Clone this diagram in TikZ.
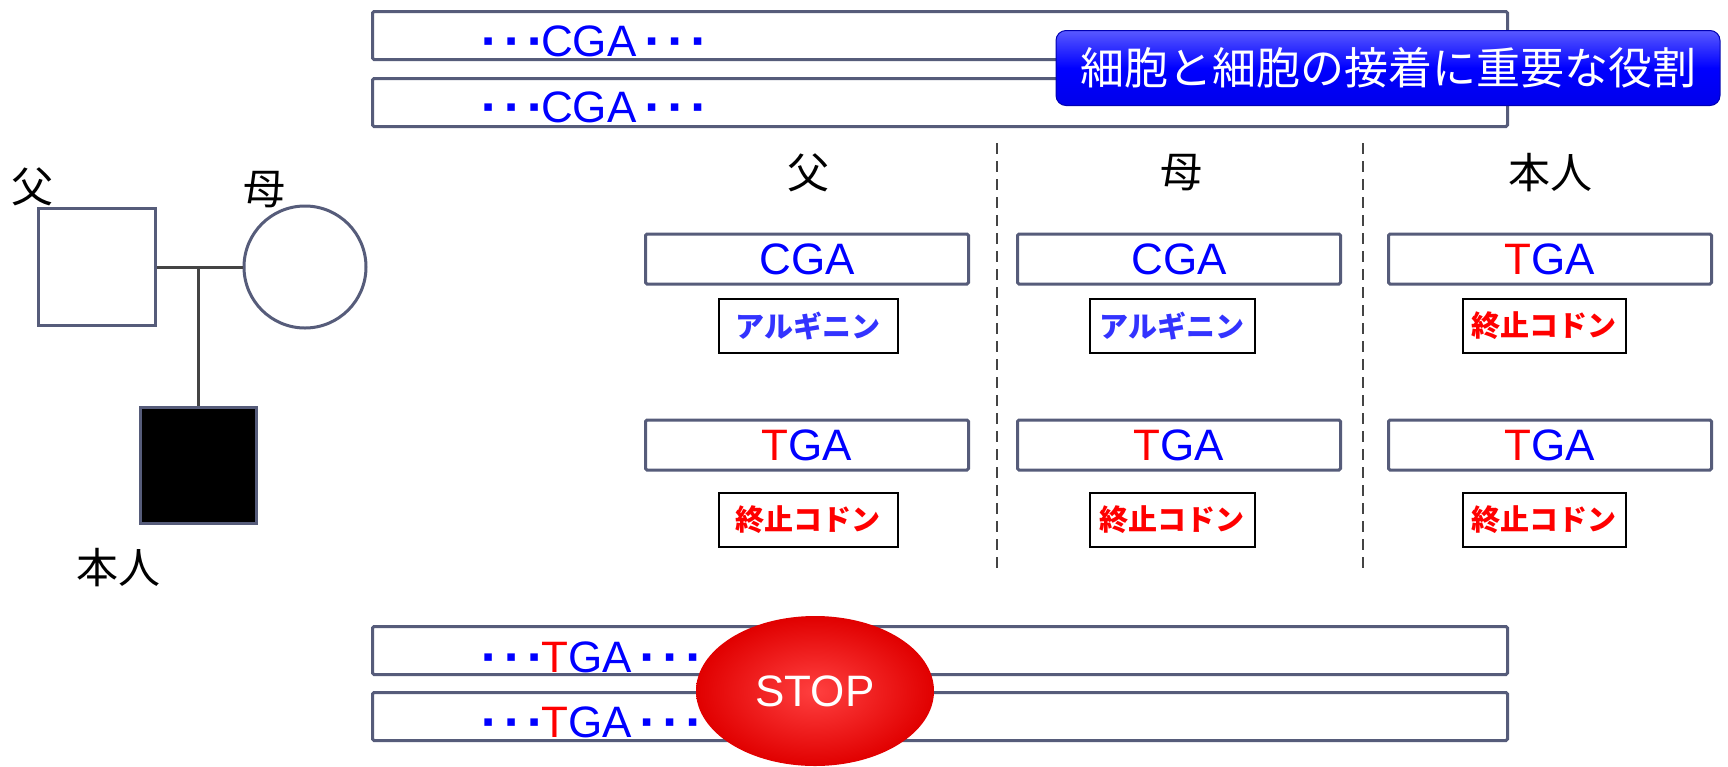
\documentclass[tikz,border=0pt]{standalone}
\usepackage{fontspec}
\setmainfont{Liberation Sans}
\newfontfamily\jp{Noto Sans CJK JP}
\newfontfamily\djv{DejaVu Sans}
\usetikzlibrary{shapes.geometric,shadings}
\definecolor{strandc}{HTML}{565C7A}
\definecolor{txtblue}{HTML}{0000FF}
\definecolor{amblue}{HTML}{3333FF}
\definecolor{pedline}{HTML}{444444}
\newcommand\onedot{\raisebox{10.5pt}{\djv\fontsize{15}{17}\selectfont ▪}}
\newcommand\dotbox[1]{\makebox[#1][l]{\onedot}}
\newcommand\leaddots{\dotbox{23pt}\dotbox{23pt}\dotbox{12pt}}
\newcommand\traildots{\kern10pt\dotbox{23pt}\dotbox{23pt}\onedot}
\begin{document}
\begin{tikzpicture}[x=1pt,y=-1pt,
  strandbox/.style={draw=strandc, line width=3pt, rounded corners=1.5pt, fill=white, minimum width=1135pt, minimum height=48pt, inner sep=0pt, anchor=north west},
  strandtxt/.style={text=txtblue, font=\fontsize{44}{48}\selectfont, inner sep=0pt, anchor=base west},
  codonbox/.style={draw=strandc, line width=3pt, rounded corners=1.5pt, fill=white, minimum width=323pt, minimum height=50pt, inner sep=0pt, text=txtblue, font=\fontsize{44}{48}\selectfont},
  aminobox/.style={draw=black, line width=2pt, fill=white, minimum height=54pt, inner sep=0pt, font=\jp\bfseries\fontsize{29}{32}\selectfont},
  header/.style={font=\jp\fontsize{42}{46}\selectfont, inner sep=0pt},
  pedsym/.style={draw=strandc, line width=3pt, inner sep=0pt},
  dashline/.style={draw=pedline, line width=2.5pt, dash pattern=on 11pt off 7pt}]
\useasboundingbox (0,0) rectangle (1728,766);
\fill[white] (0,0) rectangle (1728,766);
% top strands
\node[strandbox] (s1) at (371,10) {};
\node[strandbox] (s2) at (371,77) {};
\node[strandtxt] (t1) at (483,56) {\leaddots CGA\traildots};
\node[strandtxt] (t2) at (483,122) {\leaddots CGA\traildots};
% banner
\node[draw=blue!70!black, line width=1pt, rounded corners=10pt, top color=blue!65!white, bottom color=blue!92!black, middle color=blue, minimum width=664pt, minimum height=75pt, inner sep=0pt, text=white, font=\jp\fontsize{44}{48}\selectfont] (ban) at (1388,68) {細胞と細胞の接着に重要な役割};
% headers
\node[header] (h1) at (808,173) {父};
\node[header] (h2) at (1181,173) {母};
\node[header] (h3) at (1550,173) {本人};
% dashed separators
\coordinate (d1t) at (997,143); \coordinate (d1b) at (997,573);
\coordinate (d2t) at (1363,143); \coordinate (d2b) at (1363,573);
\draw[dashline] (d1t) -- (d1b);
\draw[dashline] (d2t) -- (d2b);
% codons row 1
\node[codonbox] (c11) at (807,259) {CGA};
\node[codonbox] (c12) at (1179,259) {CGA};
\node[codonbox] (c13) at (1550,259) {\textcolor{red}{T}GA};
\node[aminobox, minimum width=179pt, text=amblue] (a11) at (808,326) {アルギニン};
\node[aminobox, minimum width=165pt, text=amblue] (a12) at (1172,326) {アルギニン};
\node[aminobox, minimum width=163pt, text=red] (a13) at (1544,326) {終止コドン};
% codons row 2
\node[codonbox] (c21) at (807,445) {\textcolor{red}{T}GA};
\node[codonbox] (c22) at (1179,445) {\textcolor{red}{T}GA};
\node[codonbox] (c23) at (1550,445) {\textcolor{red}{T}GA};
\node[aminobox, minimum width=179pt, text=red] (a21) at (808,520) {終止コドン};
\node[aminobox, minimum width=165pt, text=red] (a22) at (1172,520) {終止コドン};
\node[aminobox, minimum width=163pt, text=red] (a23) at (1544,520) {終止コドン};
% pedigree
\node[pedsym, rectangle, minimum size=117pt, fill=white] (fa) at (97,267) {};
\node[pedsym, circle, minimum size=122pt, fill=white] (mo) at (305,267) {};
\node[pedsym, rectangle, minimum size=116pt, fill=black] (son) at (198,465) {};
\coordinate (mid) at (198,266);
\draw[pedline, line width=3pt] (fa.east) -- (mo.west);
\draw[pedline, line width=3pt] (mid) -- (son.north);
\node[header] (lfa) at (33,187) {父};
\node[header] (lmo) at (264,190) {母};
\node[header] (lson) at (118,568) {本人};
% bottom strands
\node[strandbox] (s3) at (371,625) {};
\node[strandbox] (s4) at (371,691) {};
\node[strandtxt] (t3) at (483,672) {\leaddots\textcolor{red}{T}GA\traildots};
\node[strandtxt] (t4) at (483,737) {\leaddots\textcolor{red}{T}GA\traildots};
% stop sign
\node[ellipse, minimum width=238pt, minimum height=150pt, inner sep=0pt, inner color=red!75!white, outer color=red!88!black, text=white, font=\fontsize{44}{48}\selectfont] (stop) at (815,691) {STOP};
\end{tikzpicture}
\end{document}
